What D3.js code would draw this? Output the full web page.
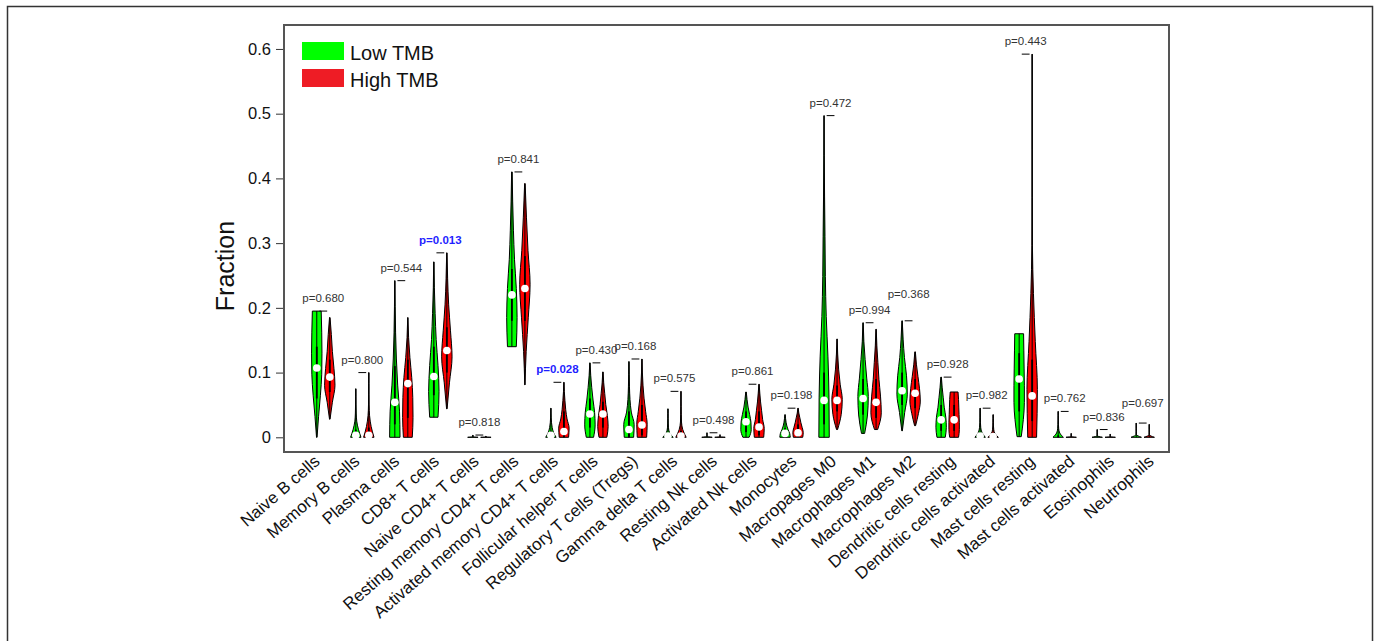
<!DOCTYPE html>
<html>
<head>
<meta charset="utf-8">
<script src="https://cdn.jsdelivr.net/npm/d3@7"></script>
<style>
  body { margin: 0; background: #fff; }
  svg { display: block; font-family: "Liberation Sans", Arial, sans-serif; }
</style>
</head>
<body>
<div id="chart"></div>
<script>
// cell types, in plot order
var cells = ["Naive B cells", "Memory B cells", "Plasma cells", "CD8+ T cells", "Naive CD4+ T cells",
  "Resting memory CD4+ T cells", "Activated memory CD4+ T cells", "Follicular helper T cells",
  "Regulatory T cells (Tregs)", "Gamma delta T cells", "Resting Nk cells", "Activated Nk cells",
  "Monocytes", "Macropages M0", "Macrophages M1", "Macrophages M2", "Dendritic cells resting",
  "Dendritic cells activated", "Mast cells resting", "Mast cells activated", "Eosinophils", "Neutrophils"];

var pValues = ["0.680", "0.800", "0.544", "0.013", "0.818", "0.841", "0.028", "0.430", "0.168", "0.575", "0.498",
  "0.861", "0.198", "0.472", "0.994", "0.368", "0.928", "0.982", "0.443", "0.762", "0.836", "0.697"];

var groups = ["Low TMB", "High TMB"];

// [min, q1, median, q3, max] ; median null = no dot visible
var lowStats = [
  [0, 0.06, 0.107, 0.14, 0.195], [0, 0, 0.003, 0.012, 0.075], [0, 0.02, 0.054, 0.11, 0.242],
  [0.031, 0.065, 0.094, 0.14, 0.271], [0, 0, null, 0, 0.0035], [0.14, 0.18, 0.22, 0.26, 0.41],
  [0, 0, 0.003, 0.01, 0.045], [0, 0.015, 0.036, 0.06, 0.115], [0, 0, 0.012, 0.04, 0.117],
  [0, 0, 0.002, 0.005, 0.044], [0, 0, null, 0, 0.007], [0, 0.008, 0.024, 0.04, 0.07],
  [0, 0, 0.006, 0.014, 0.035], [0, 0.02, 0.057, 0.1, 0.497], [0.006, 0.035, 0.06, 0.09, 0.177],
  [0.01, 0.05, 0.072, 0.1, 0.18], [0, 0.01, 0.027, 0.05, 0.093], [0, 0, 0.002, 0.008, 0.045],
  [0.001, 0.04, 0.09, 0.13, 0.16], [0, 0, null, 0.003, 0.04], [0, 0, null, 0, 0.012], [0, 0, null, 0, 0.022]
];
var highStats = [
  [0.028, 0.07, 0.093, 0.12, 0.185], [0, 0, 0.003, 0.015, 0.1], [0, 0.03, 0.083, 0.12, 0.185],
  [0.044, 0.1, 0.134, 0.17, 0.285], [0, 0, null, 0, 0.002], [0.081, 0.18, 0.23, 0.28, 0.392],
  [0, 0, 0.009, 0.04, 0.085], [0, 0.015, 0.036, 0.055, 0.101], [0, 0.003, 0.019, 0.05, 0.121],
  [0, 0, 0.002, 0.01, 0.071], [0, 0, null, 0, 0.004], [0, 0.003, 0.016, 0.04, 0.082],
  [0, 0.001, 0.007, 0.02, 0.045], [0.012, 0.04, 0.057, 0.08, 0.152], [0.012, 0.03, 0.054, 0.09, 0.167],
  [0.018, 0.045, 0.068, 0.09, 0.132], [0, 0.01, 0.027, 0.05, 0.07], [0, 0, 0.001, 0.005, 0.035],
  [0, 0.025, 0.064, 0.12, 0.592], [0, 0, null, 0, 0.006], [0, 0, null, 0, 0.005], [0, 0, null, 0, 0.02]
];

// relative violin widths, evenly spaced from min to max
var lowShape = [
  [0.05, 0.35, 0.7, 0.95, 1.0, 0.95, 0.85], [1.0, 0.5, 0.18, 0.08, 0.05, 0.03, 0.02],
  [1.0, 0.9, 0.55, 0.3, 0.15, 0.07, 0.02], [0.8, 1.0, 0.8, 0.45, 0.25, 0.1, 0.03],
  [1.0, 0.02, 0.01, 0.01, 0.01, 0.01],
  [0.85, 1.0, 0.85, 0.5, 0.3, 0.15, 0.05], [1.0, 0.5, 0.25, 0.12, 0.06, 0.03, 0.02],
  [0.7, 1.0, 0.9, 0.6, 0.35, 0.15, 0.03], [0.9, 1.0, 0.45, 0.2, 0.1, 0.05, 0.02],
  [1.0, 0.3, 0.1, 0.05, 0.03, 0.02, 0.02], [1.0, 0.02, 0.01, 0.01, 0.01, 0.01],
  [0.6, 1.0, 0.95, 0.7, 0.4, 0.2, 0.05],
  [1.0, 0.9, 0.6, 0.35, 0.2, 0.1, 0.03], [1.0, 0.95, 0.75, 0.42, 0.25, 0.18, 0.1, 0.04, 0.01],
  [0.3, 0.85, 1.0, 0.7, 0.4, 0.15, 0.03], [0.05, 0.5, 1.0, 0.85, 0.45, 0.2, 0.03],
  [0.8, 1.0, 0.9, 0.6, 0.4, 0.2, 0.05], [1.0, 0.35, 0.12, 0.06, 0.04, 0.03, 0.02],
  [0.4, 0.8, 1.0, 1.0, 0.95, 0.9, 0.85], [1.0, 0.3, 0.1, 0.05, 0.03, 0.02, 0.02],
  [1.0, 0.02, 0.01, 0.01, 0.01, 0.01], [1.0, 0.02, 0.01, 0.01, 0.01, 0.01]
];
var highShape = [
  [0.05, 0.5, 1.0, 0.8, 0.5, 0.3, 0.05], [1.0, 0.45, 0.15, 0.06, 0.04, 0.03, 0.02],
  [0.85, 1.0, 0.95, 0.75, 0.4, 0.15, 0.02], [0.05, 0.5, 1.0, 0.7, 0.35, 0.15, 0.03],
  [1.0, 0.02, 0.01, 0.01, 0.01, 0.01],
  [0.02, 0.25, 0.65, 1.0, 0.6, 0.3, 0.05], [0.9, 1.0, 0.6, 0.35, 0.2, 0.08, 0.02],
  [0.75, 1.0, 0.85, 0.55, 0.35, 0.15, 0.03], [0.9, 1.0, 0.7, 0.4, 0.2, 0.08, 0.02],
  [1.0, 0.35, 0.1, 0.05, 0.03, 0.02, 0.02], [1.0, 0.02, 0.01, 0.01, 0.01, 0.01],
  [0.9, 1.0, 0.7, 0.5, 0.3, 0.15, 0.03],
  [0.9, 1.0, 0.8, 0.55, 0.35, 0.15, 0.03], [0.1, 0.8, 1.0, 0.6, 0.3, 0.12, 0.02],
  [0.3, 1.0, 0.85, 0.55, 0.35, 0.15, 0.03], [0.1, 0.65, 1.0, 0.85, 0.55, 0.25, 0.05],
  [0.85, 1.0, 1.0, 0.95, 0.9, 0.85, 0.75], [1.0, 0.35, 0.12, 0.06, 0.04, 0.03, 0.02],
  [0.85, 1.0, 0.6, 0.25, 0.05, 0.02, 0.01, 0.01, 0.01], [1.0, 0.02, 0.01, 0.01, 0.01, 0.01],
  [1.0, 0.02, 0.01, 0.01, 0.01, 0.01], [1.0, 0.02, 0.01, 0.01, 0.01, 0.01]
];

var yTicks = [0, 0.1, 0.2, 0.3, 0.4, 0.5, 0.6];
var tickLabels = ["0", "0.1", "0.2", "0.3", "0.4", "0.5", "0.6"];

var width = 1380, height = 641;
var box = {left: 284, right: 1169, top: 25, bottom: 452};
var colors = ["#00ff00", "#ff0000"];
var legendColors = ["#00ff00", "#ee1c25"];
// a couple of p labels sit higher in the original
var labelNudge = {15: 0.021, 21: 0.011};

var svg = d3.select("#chart").append("svg")
  .attr("width", width)
  .attr("height", height);

svg.append("rect").attr("width", width).attr("height", height).attr("fill", "#fff");
// outer frame
svg.append("path")
  .attr("d", "M7.5," + (height + 2) + "V6.5H1372.5V" + (height + 2))
  .attr("fill", "none")
  .attr("stroke", "#333")
  .attr("stroke-width", 1.5);

// positions like R: group i at 3i (low) and 3i+1 (high), xlim c(0,63) + 4%
var x = d3.scaleLinear().domain([-2.52, 65.52]).range([box.left, box.right]);
var y = d3.scaleLinear().domain([-0.0227, 0.637]).range([box.bottom, box.top]);
// labels are spread a little wider than the violins
var xLabel = d3.scalePoint().domain(cells).range([321, 1155]);

// y axis
var yAxis = d3.axisLeft(y).tickValues(yTicks).tickSize(8).tickPadding(5)
  .tickFormat(function (d, i) { return tickLabels[i]; });
var ya = svg.append("g").attr("transform", "translate(" + box.left + ",0)").call(yAxis);
ya.select(".domain").remove();
ya.selectAll(".tick line").attr("stroke", "#333");
ya.selectAll(".tick text").attr("fill", "#111").style("font-size", "16.5px");

svg.append("text")
  .attr("transform", "translate(234,266) rotate(-90)")
  .attr("text-anchor", "middle")
  .style("font-size", "25px")
  .attr("fill", "#111")
  .text("Fraction");

var violinArea = d3.area()
  .y(function (d) { return y(d.v); })
  .x0(function (d) { return x(d.at - 0.4 * d.w); })
  .x1(function (d) { return x(d.at + 0.4 * d.w); })
  .curve(d3.curveMonotoneY);

function drawViolin(g, at, stats, shape, color) {
  var lo = stats[0], hi = stats[4];
  var pts = shape.map(function (w, k) {
    return {v: lo + (hi - lo) * k / (shape.length - 1), w: w, at: at};
  });
  g.append("path")
    .attr("d", violinArea(pts))
    .attr("fill", color)
    .attr("stroke", "#000")
    .attr("stroke-width", 1);
  g.append("line")
    .attr("x1", x(at)).attr("x2", x(at))
    .attr("y1", y(lo)).attr("y2", y(hi))
    .attr("stroke", "#000").attr("stroke-width", 1);
  if (stats[3] > stats[1]) {
    g.append("rect")
      .attr("x", x(at - 0.07)).attr("width", x(at + 0.07) - x(at - 0.07))
      .attr("y", y(stats[3])).attr("height", y(stats[1]) - y(stats[3]))
      .attr("fill", "#000");
  }
  if (stats[2] !== null) {
    g.append("circle")
      .attr("cx", x(at)).attr("cy", y(stats[2]))
      .attr("r", 3.8)
      .attr("fill", "#fff");
  }
}

var plot = svg.append("g");
cells.forEach(function (name, i) {
  var g = plot.append("g");
  drawViolin(g, 3 * i, lowStats[i], lowShape[i], colors[0]);
  drawViolin(g, 3 * i + 1, highStats[i], highShape[i], colors[1]);
  var mx = Math.max(lowStats[i][4], highStats[i][4]);
  g.append("line")
    .attr("x1", x(3 * i + 0.2)).attr("x2", x(3 * i + 0.8))
    .attr("y1", y(mx)).attr("y2", y(mx))
    .attr("stroke", "#000").attr("stroke-width", 1);
  var sig = +pValues[i] < 0.05;
  g.append("text")
    .attr("x", x(3 * i + 0.5))
    .attr("y", y(mx + 0.02 + (labelNudge[i] || 0)))
    .attr("dy", "0.35em")
    .attr("text-anchor", "middle")
    .style("font-size", "11.5px")
    .style("font-weight", sig ? "bold" : "normal")
    .attr("fill", sig ? "#1f1fff" : "#333")
    .text("p=" + pValues[i]);
});

// plot frame
svg.append("rect")
  .attr("x", box.left).attr("y", box.top)
  .attr("width", box.right - box.left).attr("height", box.bottom - box.top)
  .attr("fill", "none").attr("stroke", "#555").attr("stroke-width", 2);

// x labels
svg.append("g").selectAll("text")
  .data(cells)
  .join("text")
  .attr("transform", function (d) {
    return "translate(" + xLabel(d) + "," + (box.bottom + 11) + ") rotate(-41)";
  })
  .attr("text-anchor", "end")
  .style("font-size", "17px")
  .attr("fill", "#111")
  .text(function (d) { return d; });

// legend
var legend = svg.append("g");
groups.forEach(function (gname, k) {
  legend.append("rect")
    .attr("x", 302).attr("y", 42 + k * 27)
    .attr("width", 42).attr("height", 18)
    .attr("fill", legendColors[k]);
  legend.append("text")
    .attr("x", 350).attr("y", 60 + k * 26.5)
    .style("font-size", "20px")
    .attr("fill", "#111")
    .text(gname);
});
</script>
</body>
</html>
